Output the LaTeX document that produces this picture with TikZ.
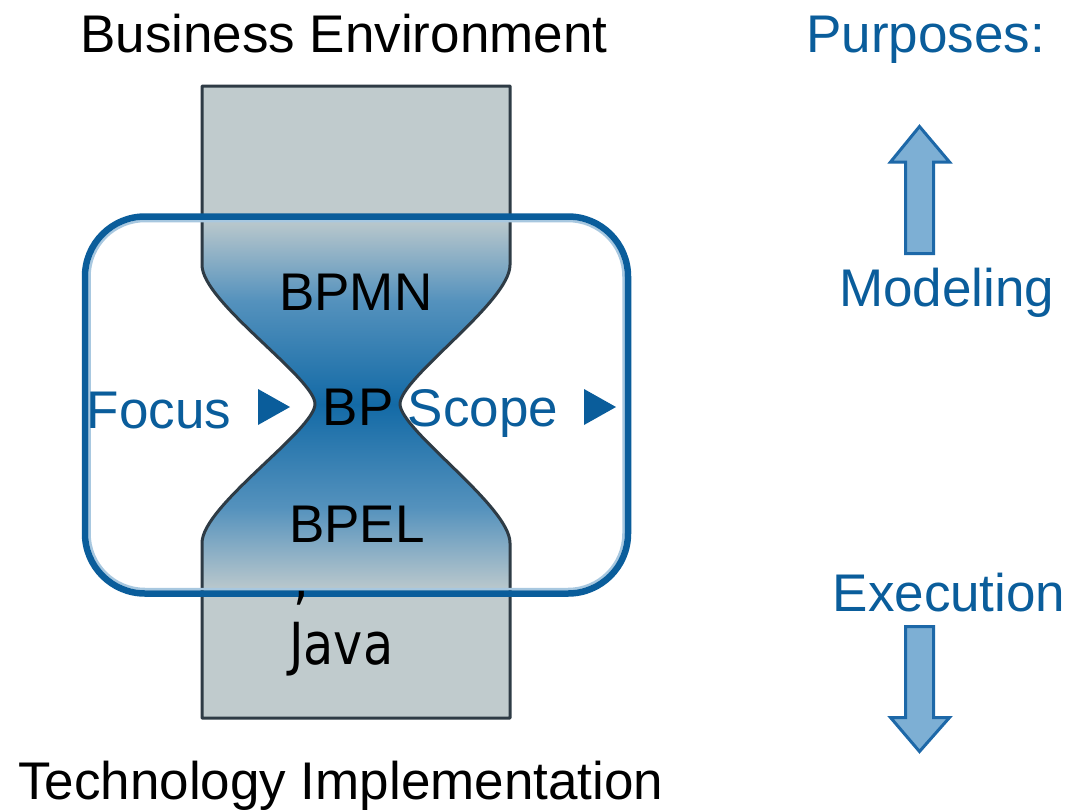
\documentclass[tikz,border=0pt]{standalone}
\usepackage{fontspec}
\setmainfont{Liberation Sans}
\newfontfamily\javafont[FakeStretch=0.85]{DejaVu Sans}
\definecolor{colgray}{HTML}{C0CBCD}
\definecolor{colborder}{HTML}{2E3B45}
\definecolor{bpblue}{HTML}{0A5D9B}
\definecolor{lightring}{HTML}{A8C8E0}
\definecolor{midblue}{HTML}{5592BD}
\definecolor{deepblue}{HTML}{136AA6}
\definecolor{arrowfill}{HTML}{7DAFD4}
\definecolor{arrowedge}{HTML}{1D68A8}
\newcommand\hourglasspath{%
  (202,86) -- (202,265)
  .. controls (202,302) and (315,378) .. (315,404)
  .. controls (315,430) and (202,506) .. (202,543)
  -- (202,718) -- (510,718) -- (510,543)
  .. controls (510,506) and (400,430) .. (400,404)
  .. controls (400,378) and (510,302) .. (510,265)
  -- (510,86) -- cycle}
\begin{document}
\begin{tikzpicture}[x=1pt,y=-1pt,
  lbl/.style={anchor=base west, inner sep=0pt, font=\fontsize{53}{63}\selectfont},
  bluelbl/.style={lbl, text=bpblue},
  javalbl/.style={anchor=base west, inner sep=0pt, font=\javafont\fontsize{58}{66}\selectfont},
  bigarrow/.style={fill=arrowfill, draw=arrowedge, line width=3pt, line join=miter},
  pointer/.style={fill=bpblue}]
\useasboundingbox (0,0) rectangle (1066,809);
\fill[white] (0,0) rectangle (1066,809);

% column with the pinched middle
\fill[colgray] \hourglasspath;
\begin{scope}
  \clip \hourglasspath;
  \shade[top color=colgray, bottom color=midblue] (190,216) rectangle (520,300.5);
  \shade[top color=midblue, bottom color=deepblue] (190,300) rectangle (520,404.5);
  \shade[top color=deepblue, bottom color=midblue] (190,404) rectangle (520,508.5);
  \shade[top color=midblue, bottom color=colgray] (190,508) rectangle (520,594);
\end{scope}
\draw[colborder, line width=3pt, line join=round] \hourglasspath;

% scope frame
\draw[lightring, line width=2.5pt, rounded corners=55.5pt] (89.5,221) rectangle (623.5,589);
\draw[bpblue, line width=6.5pt, rounded corners=60pt] (85,216.5) rectangle (628,593.5);

% labels
\node[lbl] (business) at (80,52) {Business Environment};
\node[lbl] (technology) at (18,799) {Technology Implementation};
\node[bluelbl] (purposes) at (806,52) {Purposes:};
\node[bluelbl] (modeling) at (839,306.5) {Modeling};
\node[bluelbl] (execution) at (832.5,611) {Execution};
\node[lbl] (bpmn) at (279,310) {BPMN};
\node[lbl] (bp) at (322.5,425) {BP};
\node[lbl] (bpel) at (289,542) {BPEL};
\node[bluelbl] (focus) at (86.5,428) {Focus};
\node[bluelbl] (scope) at (407.5,426) {Scope};
\node[javalbl] (comma) at (293,598) {,};
\node[javalbl] (java) at (289,664) {Java};

% direction pointers
\fill[pointer] (258,389) -- (258,425) -- (290,407) -- cycle;
\fill[pointer] (584,389) -- (584,425) -- (616,407) -- cycle;

% purpose arrows
\draw[bigarrow] (905.5,253.5) -- (905.5,162) -- (890.5,162) -- (919.5,126.5)
  -- (949.5,162) -- (933.5,162) -- (933.5,253.5) -- cycle;
\draw[bigarrow] (905.5,626.5) -- (905.5,717.5) -- (890.5,717.5) -- (919.5,751.5)
  -- (949.5,717.5) -- (933.5,717.5) -- (933.5,626.5) -- cycle;
\end{tikzpicture}
\end{document}
